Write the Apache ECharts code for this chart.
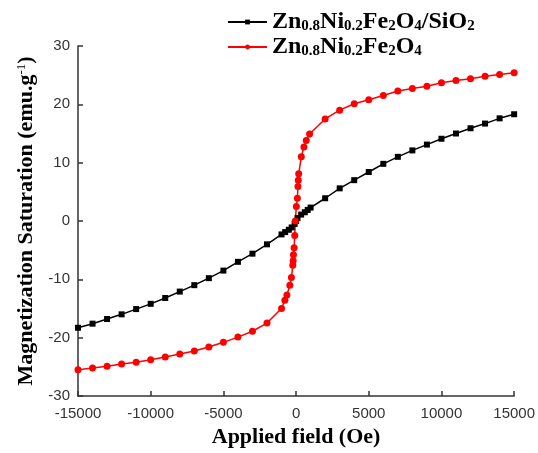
<!DOCTYPE html>
<html>
<head>
<meta charset="utf-8">
<script src="https://cdn.jsdelivr.net/npm/echarts@6/dist/echarts.min.js"></script>
<style>html,body{margin:0;padding:0;background:#fff;}#c{width:538px;height:453px;}</style>
</head>
<body>
<div id="c"></div>
<script>
var blackName = 'Zn0.8Ni0.2Fe2O4/SiO2';
var redName = 'Zn0.8Ni0.2Fe2O4';
var blackField = [-15000,-14000,-13000,-12000,-11000,-10000,-9000,-8000,-7000,-6000,-5000,-4000,-3000,-2000,-1000,-750,-500,-300,-100,0,100,350,600,800,1000,2000,3000,4000,5000,6000,7000,8000,9000,10000,11000,12000,13000,14000,15000];
var blackM = [-18.3,-17.6,-16.8,-16.0,-15.1,-14.2,-13.2,-12.1,-11.0,-9.8,-8.5,-7.0,-5.6,-4.0,-2.3,-1.9,-1.5,-1.1,-0.5,0,0.5,1.1,1.5,1.9,2.3,3.9,5.6,7.0,8.4,9.8,11.0,12.1,13.1,14.1,15.0,15.9,16.7,17.6,18.3];
var redField = [-15000,-14000,-13000,-12000,-11000,-10000,-9000,-8000,-7000,-6000,-5000,-4000,-3000,-2000,-1000,-770,-630,-430,-320,-225,-200,-180,-136,-90,-50,20,90,130,150,180,360,540,700,930,2000,3000,4000,5000,6000,7000,8000,9000,10000,11000,12000,13000,14000,15000];
var redM = [-25.5,-25.2,-24.9,-24.5,-24.2,-23.8,-23.3,-22.8,-22.3,-21.6,-20.8,-19.9,-18.9,-17.5,-15.0,-13.6,-12.7,-11.0,-9.7,-7.6,-6.8,-5.8,-4.6,-2.5,0.0,2.5,3.9,5.9,7.0,8.1,11.0,12.7,13.8,14.9,17.5,19.0,20.1,20.8,21.5,22.3,22.7,23.1,23.7,24.1,24.4,24.8,25.1,25.4];
var xTicks = {min:-15000, max:15000, interval:5000};
var yTicks = {min:-30, max:30, interval:10};

function pairs(xs, ys){ return xs.map(function(x,i){ return [x, ys[i]]; }); }

var legendRich = {
  b: {fontFamily:'Liberation Serif', fontSize:24, fontWeight:'bold', color:'#000', lineHeight:24},
  s: {fontFamily:'Liberation Serif', fontSize:15, fontWeight:'bold', color:'#000', lineHeight:15, verticalAlign:'bottom'}
};
var legendFmt = {};
legendFmt[blackName] = '{b|Zn}{s|0.8}{b|Ni}{s|0.2}{b|Fe}{s|2}{b|O}{s|4}{b|/SiO}{s|2}';
legendFmt[redName] = '{b|Zn}{s|0.8}{b|Ni}{s|0.2}{b|Fe}{s|2}{b|O}{s|4}';

var chart = echarts.init(document.getElementById('c'));
chart.setOption({
  animation: false,
  backgroundColor: '#fff',
  grid: {left:78, right:19, top:46, bottom:53, containLabel:false},
  legend: {
    orient:'vertical', left:227, top:10, padding:0, itemWidth:39, itemHeight:6, itemGap:1,
    data:[blackName, redName],
    formatter: function(n){ return legendFmt[n]; },
    textStyle: {rich: legendRich}
  },
  xAxis: {
    type:'value', min:xTicks.min, max:xTicks.max, interval:xTicks.interval,
    name:'Applied field (Oe)', nameLocation:'middle', nameGap:30,
    nameTextStyle:{fontFamily:'Liberation Serif', fontSize:22, fontWeight:'bold', color:'#000'},
    axisLine:{show:true, onZero:false, lineStyle:{color:'#333', width:1.5}},
    axisTick:{show:true, inside:true, length:5, lineStyle:{color:'#333', width:1.5}},
    axisLabel:{fontFamily:'Liberation Sans', fontSize:15, color:'#333', margin:10, formatter:function(v){ return String(v); }},
    splitLine:{show:false}
  },
  yAxis: {
    type:'value', min:yTicks.min, max:yTicks.max, interval:yTicks.interval,
    name:'{t|Magnetization Saturation (emu.g}{p|-1}{t|)}', nameLocation:'middle', nameGap:41,
    nameTextStyle:{rich:{
      t:{fontFamily:'Liberation Serif', fontSize:22, fontWeight:'bold', color:'#000', lineHeight:22},
      p:{fontFamily:'Liberation Serif', fontSize:13, fontWeight:'normal', color:'#000', lineHeight:13, verticalAlign:'top'}
    }},
    axisLine:{show:true, onZero:false, lineStyle:{color:'#333', width:1.5}},
    axisTick:{show:true, inside:true, length:5, lineStyle:{color:'#333', width:1.5}},
    axisLabel:{fontFamily:'Liberation Sans', fontSize:15, color:'#333', margin:8, formatter:function(v){ return String(v); }},
    splitLine:{show:false}
  },
  series: [
    {name:blackName, type:'line', data:pairs(blackField, blackM), symbol:'rect', symbolSize:6,
     lineStyle:{color:'#000', width:1.5}, itemStyle:{color:'#000'}},
    {name:redName, type:'line', data:pairs(redField, redM), symbol:'circle', symbolSize:7,
     lineStyle:{color:'#ff0000', width:1.5}, itemStyle:{color:'#ff0000'}}
  ]
});
</script>
</body>
</html>
